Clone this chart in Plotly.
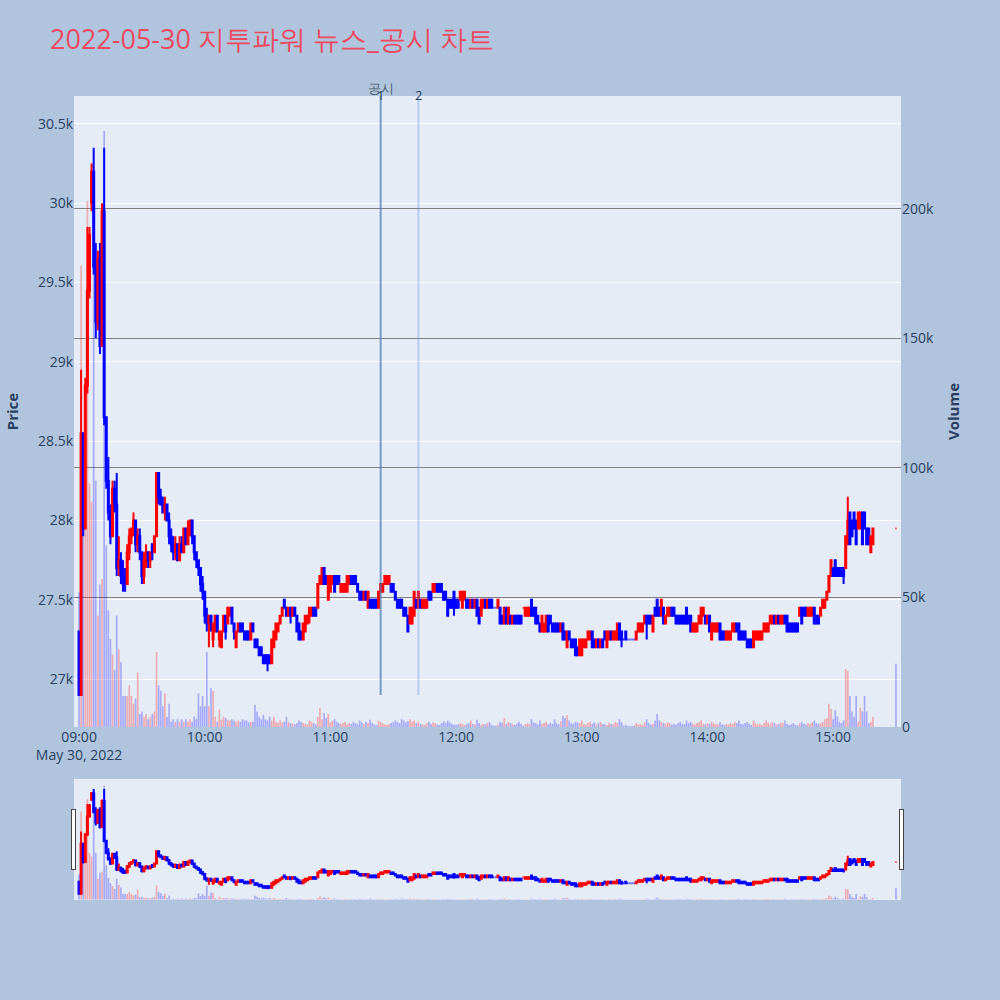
import pandas as pd
import plotly.graph_objects as go

DATE = "2022-05-30"
TITLE = "2022-05-30 지투파워 뉴스_공시 차트"

# minute timestamps: 09:00 .. 15:19 continuous session, plus the 15:30 closing auction
TIMES = list(pd.date_range(f"{DATE} 09:00", f"{DATE} 15:19", freq="1min")) + [pd.Timestamp(f"{DATE} 15:30")]

OPEN = [
27300,26900,28550,27950,28850,29450,30000,30200,29600,29250,
29650,29100,29950,28650,28250,28050,27900,28200,28100,27700,
27750,27650,27650,27600,27800,27900,27950,28000,27850,27900,
27800,27650,27750,27800,27750,27850,27800,27900,28300,28150,
28100,28050,28100,28000,27900,27850,27800,27850,27750,27850,
27800,27950,27850,27950,28000,27900,27800,27750,27700,27600,
27550,27400,27350,27400,27250,27300,27400,27250,27200,27300,
27400,27350,27400,27450,27350,27200,27300,27350,27350,27300,
27300,27300,27250,27350,27250,27250,27200,27200,27150,27150,
27150,27150,27100,27200,27250,27300,27350,27400,27500,27450,
27400,27450,27400,27450,27400,27350,27300,27250,27300,27350,
27400,27400,27450,27450,27450,27600,27600,27700,27650,27500,
27550,27600,27650,27650,27650,27550,27550,27550,27550,27600,
27650,27650,27650,27600,27550,27550,27500,27550,27450,27500,
27500,27500,27500,27450,27550,27550,27600,27600,27600,27600,
27600,27550,27500,27500,27500,27450,27450,27400,27350,27350,
27400,27500,27450,27500,27450,27450,27450,27550,27550,27550,
27550,27600,27600,27600,27550,27550,27500,27500,27500,27550,
27500,27500,27500,27450,27500,27500,27500,27450,27500,27450,
27500,27450,27400,27450,27500,27450,27500,27500,27450,27450,
27450,27450,27400,27350,27450,27350,27400,27350,27400,27400,
27400,27400,27450,27400,27400,27400,27500,27450,27450,27400,
27350,27300,27300,27300,27400,27400,27350,27350,27350,27350,
27300,27350,27300,27200,27300,27250,27250,27250,27200,27150,
27150,27200,27200,27250,27250,27300,27250,27200,27250,27200,
27250,27300,27200,27250,27300,27250,27250,27250,27350,27300,
27250,27300,27250,27250,27250,27250,27250,27300,27300,27300,
27350,27400,27400,27400,27300,27450,27500,27450,27400,27450,
27350,27400,27400,27450,27450,27400,27400,27400,27400,27400,
27450,27400,27400,27300,27300,27300,27350,27350,27400,27400,
27350,27400,27250,27300,27300,27300,27350,27300,27300,27250,
27250,27250,27300,27300,27350,27350,27300,27300,27300,27250,
27250,27250,27200,27250,27250,27250,27250,27300,27300,27300,
27350,27350,27400,27350,27400,27350,27350,27400,27400,27350,
27350,27350,27350,27350,27400,27450,27450,27450,27400,27400,
27400,27450,27400,27400,27400,27450,27450,27500,27550,27650,
27700,27750,27700,27700,27700,27700,27700,27850,28050,28000,
28050,28000,27950,27950,28050,28050,27950,27950,27800,27850,
27950]

HIGH = [
27300,28950,28550,28900,29850,29850,30250,30350,29750,29700,
29750,30000,30350,28650,28400,28100,28250,28250,28300,27900,
27800,27750,27700,27850,27950,27950,28050,28000,27950,27950,
27800,27800,27850,27800,27800,27850,27900,28300,28300,28200,
28150,28150,28100,28050,27950,27900,27900,27850,27900,27900,
27950,27950,28000,28000,28000,27900,27800,27750,27700,27650,
27550,27450,27400,27400,27350,27400,27400,27300,27300,27400,
27400,27450,27450,27450,27350,27300,27350,27350,27350,27300,
27300,27300,27350,27350,27250,27250,27200,27200,27150,27150,
27150,27150,27250,27300,27350,27350,27400,27450,27500,27450,
27450,27450,27450,27450,27400,27350,27300,27350,27400,27400,
27450,27450,27450,27450,27600,27650,27700,27700,27650,27650,
27650,27650,27650,27650,27650,27600,27600,27600,27650,27650,
27650,27650,27650,27600,27550,27550,27550,27550,27550,27500,
27500,27500,27500,27550,27600,27600,27650,27650,27650,27600,
27600,27550,27500,27500,27500,27450,27450,27400,27450,27450,
27550,27500,27550,27500,27500,27500,27500,27550,27550,27600,
27600,27600,27600,27600,27550,27550,27500,27500,27500,27550,
27500,27500,27550,27550,27550,27500,27500,27500,27500,27500,
27500,27450,27500,27500,27500,27500,27500,27500,27450,27450,
27500,27450,27400,27450,27450,27450,27400,27400,27400,27400,
27400,27400,27450,27450,27450,27450,27500,27450,27450,27400,
27350,27400,27350,27400,27400,27400,27350,27350,27350,27350,
27350,27350,27300,27300,27300,27250,27250,27250,27200,27250,
27250,27250,27250,27300,27300,27300,27250,27250,27250,27250,
27250,27300,27300,27300,27300,27300,27300,27350,27350,27300,
27250,27300,27250,27250,27250,27250,27300,27350,27350,27350,
27400,27400,27400,27400,27400,27450,27500,27450,27500,27450,
27400,27450,27450,27450,27450,27400,27400,27400,27400,27400,
27450,27400,27400,27350,27350,27350,27400,27450,27450,27400,
27400,27400,27350,27350,27350,27350,27350,27300,27300,27300,
27300,27300,27350,27350,27350,27350,27300,27300,27300,27250,
27250,27250,27300,27300,27300,27300,27300,27350,27350,27350,
27400,27400,27400,27400,27400,27400,27400,27400,27400,27350,
27350,27350,27350,27350,27450,27450,27450,27450,27450,27450,
27450,27450,27400,27400,27450,27500,27500,27550,27650,27750,
27700,27750,27700,27700,27700,27700,27900,28150,28050,28000,
28050,28000,28050,28050,28050,28050,27950,27950,27900,27950,
27950]

LOW = [
26900,26900,27900,27950,28800,29400,29950,29550,29150,29200,
29050,29100,28600,28200,28000,27850,27900,28050,27650,27650,
27600,27550,27550,27600,27750,27850,27900,27800,27800,27750,
27600,27600,27700,27700,27700,27750,27800,27900,28100,28100,
28050,28000,28000,27850,27800,27750,27750,27750,27750,27800,
27800,27850,27850,27900,27850,27750,27700,27650,27550,27500,
27350,27300,27200,27300,27200,27300,27300,27200,27200,27300,
27250,27350,27400,27350,27250,27200,27300,27300,27300,27250,
27250,27250,27250,27300,27200,27200,27150,27150,27100,27100,
27050,27100,27100,27200,27250,27300,27350,27400,27450,27400,
27400,27350,27400,27400,27300,27250,27250,27250,27300,27350,
27350,27400,27400,27400,27450,27600,27600,27600,27600,27500,
27550,27600,27550,27600,27600,27550,27550,27550,27550,27600,
27600,27600,27600,27550,27500,27500,27500,27500,27450,27450,
27450,27450,27450,27450,27550,27550,27600,27600,27600,27550,
27550,27500,27450,27450,27450,27400,27400,27300,27350,27350,
27400,27450,27450,27450,27450,27450,27450,27500,27500,27550,
27550,27550,27550,27550,27500,27500,27400,27450,27450,27400,
27450,27450,27500,27450,27500,27450,27450,27450,27450,27450,
27400,27350,27400,27450,27450,27450,27450,27450,27450,27450,
27450,27350,27350,27350,27350,27350,27350,27350,27350,27350,
27350,27350,27450,27400,27400,27400,27400,27400,27350,27350,
27300,27300,27300,27300,27300,27350,27300,27300,27300,27300,
27300,27250,27250,27200,27250,27200,27200,27150,27150,27150,
27150,27200,27200,27250,27250,27200,27200,27200,27200,27200,
27200,27250,27200,27250,27250,27250,27250,27250,27250,27200,
27250,27250,27250,27250,27250,27250,27250,27300,27300,27300,
27350,27250,27350,27350,27300,27400,27400,27400,27400,27350,
27350,27400,27400,27400,27400,27350,27350,27350,27350,27350,
27350,27350,27300,27300,27300,27300,27350,27350,27400,27350,
27350,27300,27250,27300,27300,27300,27250,27250,27250,27250,
27250,27250,27300,27300,27300,27250,27250,27250,27250,27200,
27200,27200,27200,27250,27250,27250,27250,27300,27300,27300,
27350,27350,27350,27350,27350,27350,27350,27350,27300,27300,
27300,27300,27300,27300,27400,27350,27400,27400,27400,27400,
27400,27350,27350,27350,27400,27450,27450,27500,27550,27650,
27650,27650,27650,27650,27650,27600,27700,27850,27850,27900,
27950,27850,27950,27950,27850,27950,27850,27850,27800,27850,
27950]

CLOSE = [
26900,28550,27950,28850,29450,29800,30200,29600,29250,29650,
29100,29950,28650,28250,28050,27900,28200,28100,27700,27750,
27650,27600,27600,27800,27900,27950,28000,27850,27900,27800,
27650,27750,27800,27750,27800,27800,27900,28300,28150,28100,
28050,28100,28000,27900,27850,27800,27850,27750,27850,27800,
27950,27850,27950,28000,27900,27800,27750,27700,27600,27550,
27400,27350,27400,27350,27350,27400,27300,27300,27300,27400,
27300,27450,27450,27350,27300,27300,27350,27300,27300,27250,
27250,27250,27350,27300,27200,27200,27150,27150,27100,27100,
27100,27100,27250,27300,27350,27350,27400,27450,27450,27400,
27450,27400,27450,27400,27300,27250,27250,27350,27400,27400,
27450,27450,27400,27400,27600,27650,27700,27600,27600,27650,
27650,27650,27550,27600,27600,27600,27600,27600,27650,27650,
27600,27600,27600,27550,27500,27500,27550,27500,27550,27450,
27450,27450,27450,27550,27600,27600,27650,27650,27650,27550,
27550,27500,27450,27450,27450,27400,27400,27300,27450,27450,
27550,27450,27550,27450,27500,27500,27500,27500,27500,27600,
27600,27550,27550,27550,27500,27500,27400,27450,27450,27450,
27450,27450,27550,27550,27550,27450,27450,27500,27450,27500,
27400,27350,27500,27500,27450,27500,27450,27450,27450,27450,
27500,27350,27350,27450,27350,27450,27350,27400,27350,27350,
27350,27350,27450,27450,27450,27450,27400,27400,27350,27350,
27300,27400,27350,27400,27300,27350,27300,27300,27300,27300,
27350,27250,27250,27300,27250,27200,27200,27150,27150,27250,
27250,27250,27250,27300,27300,27200,27200,27250,27200,27250,
27200,27250,27300,27300,27250,27300,27300,27350,27250,27250,
27250,27250,27250,27250,27250,27250,27300,27350,27350,27350,
27400,27350,27350,27350,27400,27400,27400,27400,27500,27350,
27400,27450,27450,27400,27400,27350,27350,27350,27350,27350,
27350,27350,27300,27350,27350,27350,27400,27450,27450,27350,
27400,27300,27350,27350,27350,27350,27250,27250,27250,27300,
27300,27300,27350,27350,27300,27250,27250,27250,27250,27200,
27200,27200,27300,27300,27300,27300,27300,27350,27350,27350,
27400,27400,27350,27400,27350,27400,27400,27350,27300,27300,
27300,27300,27300,27300,27450,27350,27400,27400,27450,27450,
27450,27350,27350,27350,27450,27500,27500,27550,27650,27750,
27650,27650,27650,27650,27650,27650,27900,28000,27850,27900,
27950,27850,28050,28050,27850,27950,27850,27850,27900,27950,
27950]

VOLUME = [
52000,178000,104000,83000,203000,94000,87000,187000,95000,43000,
55000,57000,230000,70000,45000,34000,28000,22000,43000,30000,
25000,12000,12000,12000,16000,12000,9000,11000,21000,5000,
6000,4000,5000,3000,4000,5000,6000,29000,16000,14000,
8000,13000,4000,9000,2000,3000,2000,3000,2000,3000,
2000,3000,2000,3000,2000,4000,3000,13000,8000,12000,
8000,29000,8000,15000,14000,4000,2000,6700,2800,4000,
3500,2800,2500,3000,2500,2000,2500,2000,3000,2500,
2500,1800,2000,2000,8600,6000,4000,3000,4700,3000,
2500,4000,2500,4000,2000,1500,2500,1800,2000,4000,
2000,1500,1200,1000,1500,2500,2000,1500,1200,1000,
2500,2000,1500,1000,4000,7300,3000,5400,3500,5000,
1800,2500,3000,2000,1500,1200,1500,2000,1000,1500,
1200,2000,1500,1000,2500,1800,1200,2000,1500,2800,
1500,1000,800,2500,2000,1500,1000,800,1200,1500,
1800,2500,2000,1500,3000,2500,1800,2200,3000,2000,
2500,1500,2000,1200,1000,800,1500,2000,1200,1800,
1500,1000,800,1500,2200,1500,2500,1800,1200,1000,
800,1000,1500,1200,800,1000,1500,2500,1200,1000,
2800,1500,800,1200,1000,1500,1800,800,500,500,
1000,2000,1500,3500,1200,2000,1500,1000,800,1200,
2000,1200,500,1000,1500,1200,3000,1800,1500,1000,
2500,1200,1500,2000,1000,1500,1200,3000,1500,1000,
2200,4200,3500,4500,2500,1500,1200,2000,1800,1500,
2500,1200,1000,1500,2000,1200,1800,1000,1500,2000,
1200,1000,800,1500,1200,1000,2000,1500,3000,1800,
500,800,400,300,300,500,1500,1000,1200,800,
1800,3000,1500,1000,1200,2500,5000,2500,2000,1500,
1200,1800,1500,1000,1200,800,1500,2000,1200,1000,
2500,1500,2000,1200,1000,1500,1800,2500,1200,1000,
1500,1200,2000,1500,1000,1200,1800,1000,800,1200,
1000,1500,1200,2000,1500,2500,1200,1000,1500,2000,
1200,800,2500,1500,1000,1200,800,1500,2500,1800,
1200,2000,1500,1000,1200,1800,1500,2500,1200,800,
1000,1500,800,600,1500,2000,1200,1000,1500,1200,
1800,2500,1500,1200,1500,2000,3000,3500,9000,7000,
3000,6500,4000,2000,1500,2500,22400,21600,12000,6000,
4000,12000,2000,7500,6000,12000,6000,1500,2000,4000,
24400]

# disclosure (공시) events
EVENT_TIMES = [f"{DATE} 11:24", f"{DATE} 11:42"]
EVENT_LABELS = ["1", "2"]
EVENT_HEADER = "공시"

X_RANGE = [f"{DATE} 08:57:36", f"{DATE} 15:32:24"]
Y_RANGE = [26698, 30676]
Y2_RANGE = [0, 243500]

vol_colors = ["rgba(255,0,0,0.28)" if c > o else "rgba(0,0,255,0.28)" for o, c in zip(OPEN, CLOSE)]

fig = go.Figure()
fig.add_trace(go.Candlestick(
    x=TIMES, open=OPEN, high=HIGH, low=LOW, close=CLOSE,
    increasing=dict(line=dict(color="red", width=2), fillcolor="red"),
    decreasing=dict(line=dict(color="blue", width=2), fillcolor="blue"),
    yaxis="y", showlegend=False, name="Price",
))
fig.add_trace(go.Bar(
    x=TIMES, y=VOLUME, marker=dict(color=vol_colors, line=dict(width=0)),
    yaxis="y2", showlegend=False, name="Volume",
))

line_colors = ["rgba(70,120,180,0.7)", "rgba(100,140,230,0.35)"]
for t, lab, col in zip(EVENT_TIMES, EVENT_LABELS, line_colors):
    fig.add_shape(type="line", xref="x", yref="y", x0=t, x1=t,
                  y0=min(LOW), y1=Y_RANGE[1], line=dict(color=col, width=2))
    fig.add_annotation(x=t, y=1, xref="x", yref="paper", text=lab, showarrow=False,
                       yanchor="middle", yshift=1, font=dict(size=13, color="#2a3f5f"))
fig.add_annotation(x=EVENT_TIMES[0], y=1, xref="x", yref="paper", text=EVENT_HEADER,
                   showarrow=False, yanchor="middle", yshift=8,
                   font=dict(size=13, color="#4a5a70"))

fig.update_layout(
    width=1000, height=1000,
    paper_bgcolor="#B0C4DE",
    plot_bgcolor="#E5ECF6",
    font=dict(size=14),
    title=dict(text=TITLE, x=0.05, xanchor="left", y=0.96, yanchor="middle",
               font=dict(size=27, color="#EB4A62")),
    margin=dict(l=72, r=99, t=96, b=100),
    showlegend=False,
    xaxis=dict(type="date", range=X_RANGE, showgrid=False,
               rangeslider=dict(visible=True, thickness=0.15, range=X_RANGE)),
    yaxis=dict(title=dict(text="<b>Price</b>", font=dict(size=15)), range=Y_RANGE,
               gridcolor="white"),
    yaxis2=dict(title=dict(text="<b>Volume</b>", font=dict(size=15)), overlaying="y",
                side="right", range=Y2_RANGE, showgrid=True, gridcolor="gray",
                zeroline=False),
)

fig.write_html("out.html", config={"displayModeBar": False},
               post_script="document.body.style.margin='0';")
